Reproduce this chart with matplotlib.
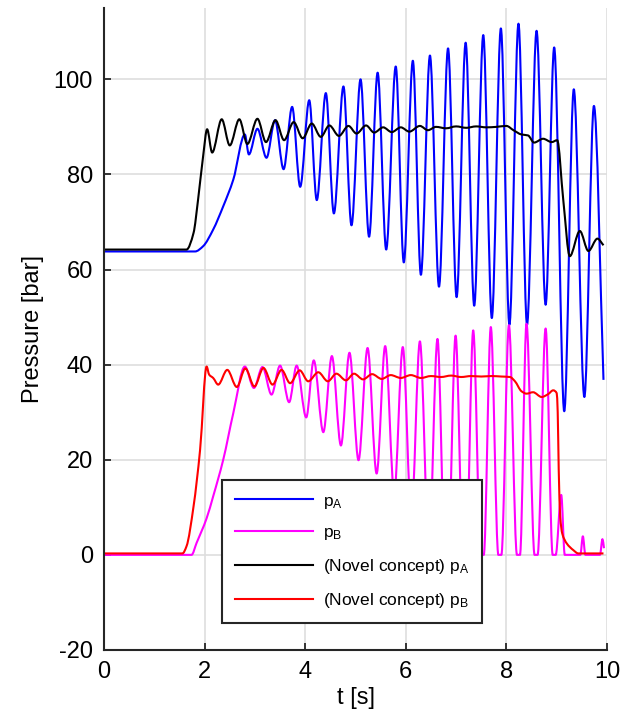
import numpy as np
import matplotlib
matplotlib.use('Agg')
import matplotlib.pyplot as plt
from matplotlib.path import Path
from matplotlib.patches import PathPatch
from matplotlib.lines import Line2D

plt.rcParams['font.family'] = ['Liberation Sans', 'DejaVu Sans']
plt.rcParams['mathtext.fontset'] = 'custom'
plt.rcParams['mathtext.rm'] = 'Liberation Sans'
plt.rcParams['mathtext.default'] = 'regular'
plt.rcParams['axes.unicode_minus'] = False

# pressure in chamber A / B, conventional valve (turning points of the measured signal)
t_pa = [0, 1.81, 1.97, 2.17, 2.37, 2.57, 2.80, 2.88, 3.05, 3.23, 3.40, 3.57, 3.74, 3.90,
        4.08, 4.23, 4.41, 4.57, 4.76, 4.92, 5.10, 5.27, 5.44, 5.61, 5.80, 5.96, 6.14, 6.30,
        6.48, 6.66, 6.84, 7.01, 7.19, 7.36, 7.54, 7.71, 7.89, 8.06, 8.24, 8.41, 8.60, 8.78,
        8.95, 9.15, 9.34, 9.55, 9.74, 9.93]
p_a = [63.8, 63.8, 64.9, 68.4, 73.3, 78.9, 88.4, 84.2, 89.6, 83.5, 91.4, 81.1, 94.2, 77.4,
       95.6, 74.6, 97.1, 71.8, 98.5, 69.3, 100.0, 66.9, 101.4, 64.2, 102.7, 61.5, 103.9, 58.9,
       105.0, 56.4, 106.5, 54.2, 107.7, 52.4, 109.3, 49.8, 110.7, 48.4, 111.7, 48.4, 110.2, 52.6,
       106.7, 30.2, 97.9, 33.2, 94.4, 36.8]

t_pb = [0, 1.74, 1.84, 2.04, 2.17, 2.37, 2.57, 2.80, 2.98, 3.15, 3.33, 3.50, 3.68, 3.83,
        4.02, 4.17, 4.36, 4.53, 4.71, 4.88, 5.06, 5.24, 5.42, 5.59, 5.77, 5.94, 6.11, 6.28,
        6.46, 6.63, 6.78, 6.84, 6.99, 7.14, 7.20, 7.34, 7.49, 7.55, 7.69, 7.84, 7.90, 8.05,
        8.21, 8.27, 8.40, 8.56, 8.62, 8.78, 8.92, 8.98, 9.09, 9.16, 9.47, 9.52, 9.57, 9.86,
        9.91, 9.94]
p_b = [0, 0, 2.5, 7.7, 12.3, 20.0, 29.8, 39.6, 35.1, 39.5, 33.7, 39.8, 32.1, 39.8,
       28.9, 40.9, 25.8, 41.8, 23.0, 42.5, 19.9, 43.5, 17.1, 43.9, 13.0, 43.7, 8.0, 44.9,
       1.5, 45.4, 0, 0, 46.1, 0, 0, 47.2, 0, 0, 47.9, 0, 0, 48.3,
       0, 0, 48.6, 0, 0, 47.6, 0, 0, 12.6, 0, 0, 3.9, 0, 0,
       3.3, 1.4]

# novel concept
t_na = [0, 1.64, 1.78, 1.87, 1.97, 2.05, 2.15, 2.34, 2.50, 2.69, 2.85, 3.05, 3.22, 3.41,
        3.58, 3.77, 3.95, 4.13, 4.31, 4.48, 4.67, 4.86, 5.02, 5.21, 5.37, 5.55, 5.72, 5.90,
        6.07, 6.28, 6.44, 6.60, 6.80, 7.00, 7.20, 7.40, 7.60, 7.80, 8.00, 8.14, 8.30, 8.43,
        8.55, 8.73, 8.90, 9.01, 9.13, 9.26, 9.46, 9.63, 9.81, 9.93]
p_na = [64.2, 64.2, 67.7, 74.7, 83.8, 89.5, 84.6, 91.6, 86.1, 91.6, 86.4, 91.7, 86.8, 91.4,
        87.2, 91.0, 87.6, 90.7, 87.9, 90.3, 88.1, 90.2, 88.6, 90.3, 88.8, 89.9, 88.9, 89.9,
        89.0, 90.2, 89.3, 90.0, 89.7, 90.1, 89.8, 90.1, 89.9, 90.0, 90.2, 89.3, 88.4, 88.2,
        86.7, 87.5, 86.8, 87.2, 74.7, 62.8, 68.1, 63.9, 66.5, 65.1]

t_nb = [0, 1.56, 1.64, 1.78, 1.91, 2.04, 2.09, 2.17, 2.27, 2.45, 2.64, 2.81, 2.99, 3.17,
        3.35, 3.53, 3.70, 3.89, 4.06, 4.26, 4.45, 4.62, 4.81, 4.97, 5.15, 5.33, 5.52, 5.70,
        5.90, 6.10, 6.30, 6.50, 6.70, 6.90, 7.10, 7.30, 7.50, 7.70, 7.90, 8.07, 8.17, 8.30,
        8.40, 8.53, 8.70, 8.83, 8.93, 9.00, 9.02, 9.04, 9.07, 9.11, 9.20, 9.33, 9.43, 9.93]
p_nb = [0.3, 0.3, 1.8, 10.2, 22.1, 39.6, 37.9, 37.2, 35.8, 38.9, 35.3, 39.2, 35.4, 39.3,
        35.8, 38.9, 36.1, 38.8, 36.5, 38.4, 36.5, 38.1, 36.7, 38.1, 36.9, 38.0, 37.0, 37.8,
        37.2, 37.8, 37.2, 37.6, 37.4, 37.7, 37.4, 37.6, 37.5, 37.6, 37.5, 37.4, 36.5, 34.4,
        33.9, 34.2, 33.2, 33.8, 34.6, 34.0, 30.0, 18.0, 8.0, 4.5, 2.4, 1.0, 0.3, 0.3]

series = [
    (t_pa, p_a, 'blue', 'p$_A$'),
    (t_pb, p_b, 'magenta', 'p$_B$'),
    (t_na, p_na, 'black', '(Novel concept) p$_A$'),
    (t_nb, p_nb, 'red', '(Novel concept) p$_B$'),
]


def smooth_path(t, v):
    # monotone cubic (Fritsch-Carlson) through the points, as Bezier segments
    t = np.asarray(t, float)
    v = np.asarray(v, float)
    h = np.diff(t)
    d = np.diff(v) / h
    m = np.zeros_like(v)
    m[0], m[-1] = d[0], d[-1]
    for k in range(1, len(v) - 1):
        if d[k - 1] * d[k] > 0:
            w1 = 2 * h[k] + h[k - 1]
            w2 = h[k] + 2 * h[k - 1]
            m[k] = (w1 + w2) / (w1 / d[k - 1] + w2 / d[k])
    verts = [(t[0], v[0])]
    codes = [Path.MOVETO]
    for k in range(len(h)):
        verts += [(t[k] + h[k] / 3, v[k] + m[k] * h[k] / 3),
                  (t[k + 1] - h[k] / 3, v[k + 1] - m[k + 1] * h[k] / 3),
                  (t[k + 1], v[k + 1])]
        codes += [Path.CURVE4] * 3
    return Path(verts, codes)


fig = plt.figure(figsize=(6.27, 7.13), dpi=100)
ax = fig.add_axes([0.1659, 0.0884, 0.8022, 0.9004])

handles = []
for t, v, c, lab in series:
    ax.add_patch(PathPatch(smooth_path(t, v), fill=False, edgecolor=c, lw=1.5,
                           joinstyle='round'))
    handles.append(Line2D([], [], color=c, lw=1.5, label=lab))

ax.set_xlim(0, 10)
ax.set_ylim(-20, 115)
ax.set_xticks(range(0, 11, 2))
ax.set_yticks(range(-20, 101, 20))
ax.grid(color='#dedede', lw=1.2)
ax.set_axisbelow(True)
for s in ['top', 'right']:
    ax.spines[s].set_visible(False)
for s in ['left', 'bottom']:
    ax.spines[s].set_linewidth(1.5)
    ax.spines[s].set_color('#262626')
ax.tick_params(direction='in', length=5, width=1.3, color='#262626',
               labelsize=17, pad=8)
ax.set_xlabel('t [s]', fontsize=17, labelpad=3)
ax.set_ylabel('Pressure [bar]', fontsize=17, labelpad=7)

leg = ax.legend(handles=handles, loc='lower left', bbox_to_anchor=(0.2346, 0.042),
                borderaxespad=0, fontsize=12.5, handlelength=4.5, handletextpad=0.55,
                labelspacing=0.85, borderpad=0.75, fancybox=False, framealpha=1,
                edgecolor='#262626')
leg.get_frame().set_linewidth(1.5)

fig.savefig('out.png', dpi=100)
